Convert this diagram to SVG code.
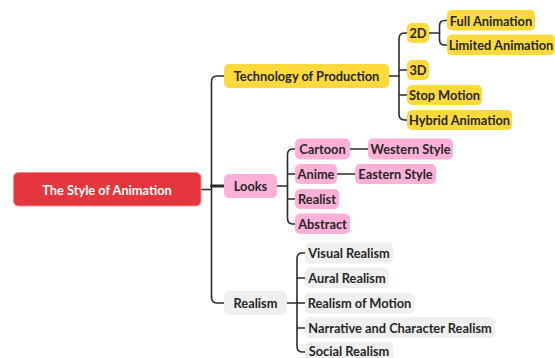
<svg xmlns="http://www.w3.org/2000/svg" width="555" height="358" viewBox="0 0 555 358">
<style>
text{font-family:Lato,"Open Sans","Liberation Sans",sans-serif;font-weight:700;font-size:12.8px;text-anchor:middle;dominant-baseline:central;fill:#262626}
.root rect{fill:#E5363B;stroke:#F28C8F;stroke-width:1}
.root text{fill:#fff}
.y rect{fill:#FDD93B}
.p rect{fill:#FFB0D8}
.g rect{fill:#EFEFEF}
.c path{fill:none;stroke:#2b2b2b;stroke-width:1.6;stroke-linecap:round}
</style>
<rect width="555" height="358" fill="#fff"/>
<g class="c" id="connectors">
<path d="M201,189.5H211.5"/>
<path d="M224,76H217Q211.5,76 211.5,82V297Q211.5,303 217,303H224"/>
<path d="M211.5,186H224" style="stroke-width:3"/>
<path d="M389,76H399"/>
<path d="M407,33H404.5Q399,33 399,39V114Q399,120 404.5,120H407M399,70H407M399,95H407"/>
<path d="M429,33H439.5"/>
<path d="M447,20.5H444.5Q439.5,20.5 439.5,26V39.5Q439.5,45 444.5,45H447"/>
<path d="M277,186H287.5"/>
<path d="M295,149H292.5Q287.5,149 287.5,155V218Q287.5,224 292.5,224H295M287.5,174H295M287.5,199H295"/>
<path d="M350,149H368"/>
<path d="M337,174H355"/>
<path d="M287,303H297"/>
<path d="M305,253H302Q297,253 297,259V346Q297,352 302,352H305M297,278H305M297,328H305M297,303H305"/>
</g>
<g class="root" id="root"><rect x="13.5" y="172.5" width="187.5" height="33.5" rx="5"/><text x="107" y="189.5">The Style of Animation</text></g>
<g class="y" id="tech"><rect x="224" y="64" width="165" height="24" rx="5"/><text x="306.5" y="76">Technology of Production</text></g>
<g class="p" id="looks"><rect x="224" y="174" width="53" height="24" rx="5"/><text x="250.5" y="186">Looks</text></g>
<g class="g" id="realism"><rect x="224" y="291" width="63" height="24" rx="5"/><text x="255.5" y="303">Realism</text></g>
<g class="y" id="n2d"><rect x="407" y="23" width="22" height="20" rx="5"/><text x="418" y="33">2D</text></g>
<g class="y" id="n3d"><rect x="407" y="60" width="22" height="20" rx="5"/><text x="418" y="70">3D</text></g>
<g class="y" id="stop"><rect x="407" y="85" width="75" height="20" rx="5"/><text x="444.5" y="95">Stop Motion</text></g>
<g class="y" id="hybrid"><rect x="407" y="110" width="105" height="20" rx="5"/><text x="459.5" y="120">Hybrid Animation</text></g>
<g class="y" id="full"><rect x="447" y="10" width="88" height="20.5" rx="5"/><text x="491" y="20.5">Full Animation</text></g>
<g class="y" id="limited"><rect x="447" y="34.5" width="108" height="20.5" rx="5"/><text x="501" y="45">Limited Animation</text></g>
<g class="p" id="cartoon"><rect x="295" y="138.5" width="55" height="21" rx="5"/><text x="322.5" y="149">Cartoon</text></g>
<g class="p" id="western"><rect x="368" y="138.5" width="85" height="21" rx="5"/><text x="410.5" y="149">Western Style</text></g>
<g class="p" id="anime"><rect x="295" y="164" width="42" height="20" rx="5"/><text x="316" y="174">Anime</text></g>
<g class="p" id="eastern"><rect x="355" y="164" width="81" height="20" rx="5"/><text x="395.5" y="174">Eastern Style</text></g>
<g class="p" id="realist"><rect x="295" y="189" width="44" height="20" rx="5"/><text x="317" y="199">Realist</text></g>
<g class="p" id="abstract"><rect x="295" y="213.5" width="55" height="20.5" rx="5"/><text x="322.5" y="224">Abstract</text></g>
<g class="g" id="visual"><rect x="305" y="242.5" width="88" height="21" rx="5"/><text x="349" y="253">Visual Realism</text></g>
<g class="g" id="aural"><rect x="305" y="267.5" width="84" height="20.5" rx="5"/><text x="347" y="278">Aural Realism</text></g>
<g class="g" id="motion"><rect x="305" y="292.5" width="109" height="21" rx="5"/><text x="359.5" y="303">Realism of Motion</text></g>
<g class="g" id="narrative"><rect x="305" y="317" width="190" height="21" rx="5"/><text x="400" y="327.5">Narrative and Character Realism</text></g>
<g class="g" id="social"><rect x="305" y="342" width="88" height="21" rx="5"/><text x="349" y="350.5">Social Realism</text></g>
</svg>
